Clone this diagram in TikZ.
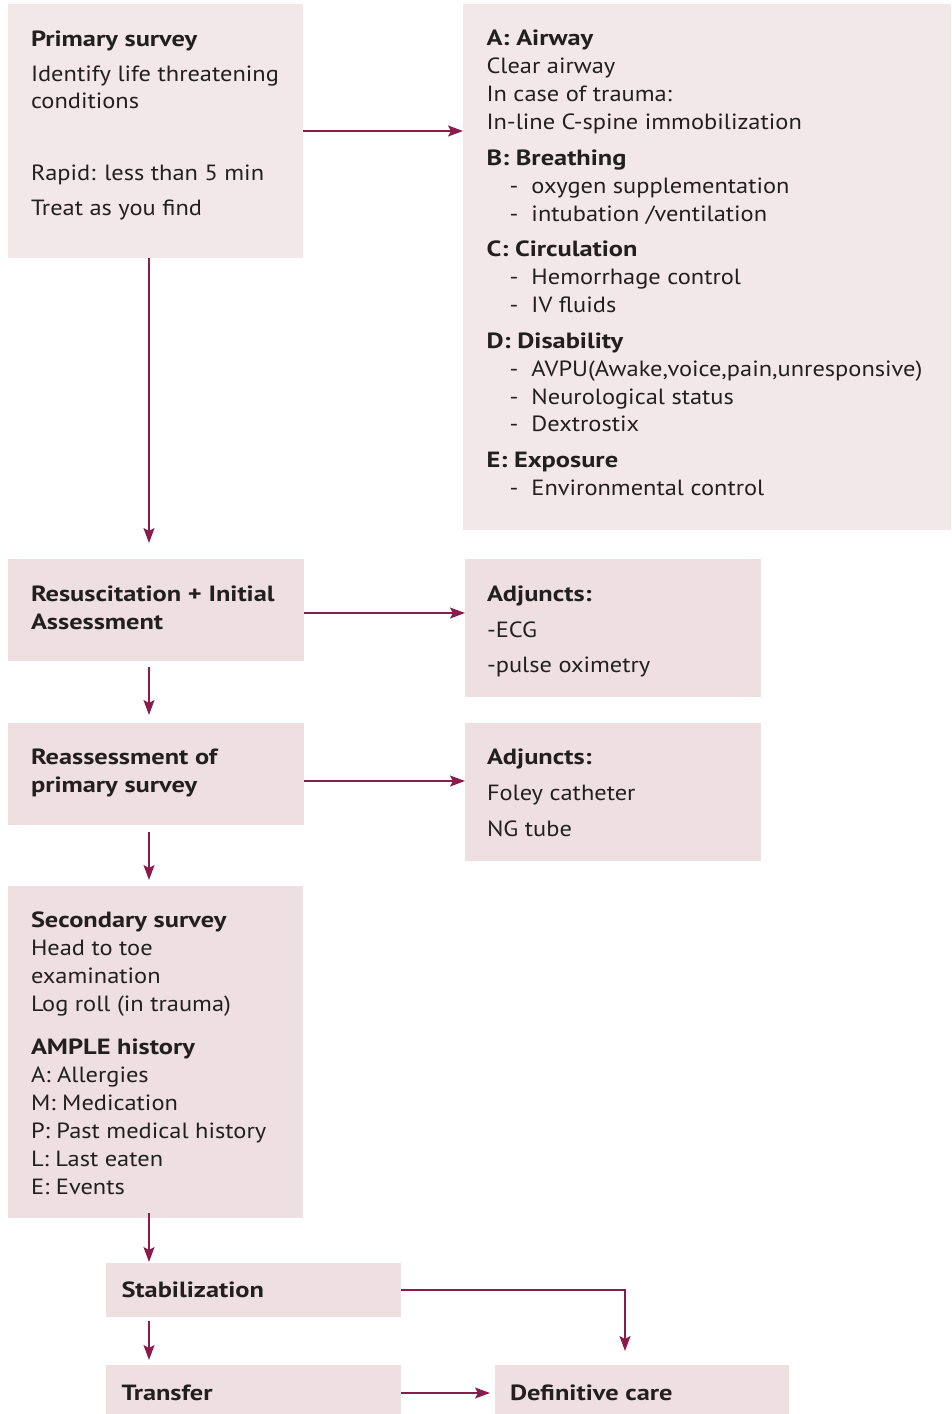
\documentclass[tikz,border=0pt]{standalone}
\usepackage{fontspec}
\setmainfont{PT Sans}[FakeStretch=1.11, BoldFeatures={FakeStretch=1.2}]
\usetikzlibrary{arrows.meta}

\definecolor{panelA}{RGB}{242,232,233}
\definecolor{panelB}{RGB}{238,224,226}
\definecolor{flow}{RGB}{139,27,74}
\definecolor{ink}{RGB}{35,31,32}

% indented list item with a leading dash
\newcommand{\itm}[1]{\hspace*{23pt}\makebox[22pt][l]{-}#1}
% fixes the height of a first line so that nodes can be placed by baseline
\newcommand{\firstline}{\rule{0pt}{20pt}}

\begin{document}
\begin{tikzpicture}[x=1pt,y=-1pt,
  panel/.style={fill=panelB, draw=none, inner sep=0pt, outer sep=0pt, anchor=north west},
  body/.style={anchor=north west, inner sep=0pt, outer sep=0pt, align=left, text=ink,
               font=\fontsize{22}{27.1}\selectfont},
  link/.style={draw=flow, line width=1.3pt, -{Stealth[length=15pt,width=11pt,inset=3pt]}},
]
\useasboundingbox (0,0) rectangle (951,1414);

% panels
\node[panel, fill=panelA, minimum width=295pt, minimum height=254pt] (ps) at (8,4) {};
\node[panel, fill=panelA, minimum width=488pt, minimum height=526pt] (abc) at (463,4) {};
\node[panel, minimum width=296pt, minimum height=102pt] (resus) at (8,559) {};
\node[panel, minimum width=296pt, minimum height=138pt] (adj1) at (465,559) {};
\node[panel, minimum width=296pt, minimum height=102pt] (reass) at (8,723) {};
\node[panel, minimum width=296pt, minimum height=138pt] (adj2) at (465,723) {};
\node[panel, minimum width=295pt, minimum height=332pt] (sec) at (8,886) {};
\node[panel, minimum width=295pt, minimum height=54pt] (stab) at (106,1263) {};
\node[panel, minimum width=295pt, minimum height=49pt] (transfer) at (106,1365) {};
\node[panel, minimum width=294pt, minimum height=49pt] (def) at (495,1365) {};

% texts
\node[body] (pstext) at (31,26) {\firstline\textbf{Primary survey}\\[8pt]
  Identify life threatening\\ conditions\\[45pt]
  Rapid: less than 5 min\\[8pt] Treat as you find};

\node[body, font=\fontsize{22}{27.9}\selectfont] (abctext) at (486.5,25.8) {\firstline\textbf{A: Airway}\\ Clear airway\\
  In case of trauma:\\ In-line C-spine immobilization\\[7.8pt]
  \textbf{B: Breathing}\\ \itm{oxygen supplementation}\\ \itm{intubation /ventilation}\\[7.8pt]
  \textbf{C: Circulation}\\ \itm{Hemorrhage control}\\ \itm{IV fluids}\\[7.8pt]
  \textbf{D: Disability}\\ \itm{AVPU(Awake,voice,pain,unresponsive)}\\
  \itm{Neurological status}\\ \itm{Dextrostix}\\[7.8pt]
  \textbf{E: Exposure}\\ \itm{Environmental control}};

\node[body] (resustext) at (31,581) {\firstline\textbf{Resuscitation + Initial}\\[1pt]\textbf{Assessment}};
\node[body] (adj1text) at (487,581) {\firstline\textbf{Adjuncts:}\\[9pt] -ECG\\[8pt] -pulse oximetry};
\node[body] (reasstext) at (31,744) {\firstline\textbf{Reassessment of}\\[1pt]\textbf{primary survey}};
\node[body] (adj2text) at (487,744) {\firstline\textbf{Adjuncts:}\\[9pt] Foley catheter\\[9pt] NG tube};
\node[body, font=\fontsize{22}{28.1}\selectfont] (sectext) at (31,907) {\firstline\textbf{Secondary survey}\\
  Head to toe\\ examination\\ Log roll (in trauma)\\[15pt]
  \textbf{AMPLE history}\\ A: Allergies\\ M: Medication\\ P: Past medical history\\
  L: Last eaten\\ E: Events};
\node[body] (stabtext) at (121.5,1277) {\firstline\textbf{Stabilization}};
\node[body] (transfertext) at (121.5,1380) {\firstline\textbf{Transfer}};
\node[body] (deftext) at (510,1380) {\firstline\textbf{Definitive care}};

% connectors
\coordinate (spine) at (149,0);
\coordinate (drop) at (625,0);
\coordinate (r1) at ([yshift=-3pt]resus.east);
\coordinate (r2) at ([yshift=-7pt]reass.east);
\coordinate (t1) at ([yshift=-3.5pt]transfer.east);

\draw[link] (ps.east) -- (ps.east -| abc.west);
\draw[link, shorten >=16pt] (ps.south -| spine) -- (resus.north -| spine);
\draw[link] (r1) -- (r1 -| adj1.west);
\draw[link, shorten <=6pt, shorten >=8pt] (resus.south -| spine) -- (reass.north -| spine);
\draw[link] (r2) -- (r2 -| adj2.west);
\draw[link, shorten <=7pt, shorten >=6pt] (reass.south -| spine) -- (sec.north -| spine);
\draw[link, shorten <=-5pt, shorten >=1pt] (sec.south -| spine) -- (stab.north -| spine);
\draw[link, shorten <=4pt, shorten >=5pt] (stab.south -| spine) -- (transfer.north -| spine);
\draw[link, shorten >=14pt] (stab.east) -| (def.north -| drop);
\draw[link, shorten >=5pt] (t1) -- (t1 -| def.west);
\end{tikzpicture}
\end{document}
